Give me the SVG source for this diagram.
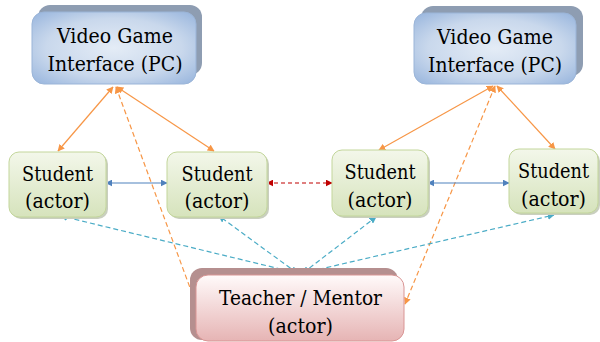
<svg xmlns="http://www.w3.org/2000/svg" width="600" height="342" viewBox="0 0 600 342">
<defs>
<radialGradient id="gBlue" cx="50%" cy="50%" r="75%">
<stop offset="0" stop-color="#E4ECF6"/>
<stop offset="0.55" stop-color="#C9D8EC"/>
<stop offset="1" stop-color="#8EAEDA"/>
</radialGradient>
<linearGradient id="gGreen" x1="0" y1="0" x2="0" y2="1">
<stop offset="0" stop-color="#F3F7EA"/>
<stop offset="1" stop-color="#D6E3BC"/>
</linearGradient>
<linearGradient id="gRed" x1="0" y1="0" x2="0" y2="1">
<stop offset="0" stop-color="#FFFAFA"/>
<stop offset="1" stop-color="#E6B4B4"/>
</linearGradient>
<marker id="aO" viewBox="0 0 10 10" refX="9" refY="5" markerWidth="7" markerHeight="7" markerUnits="userSpaceOnUse" orient="auto-start-reverse"><path d="M0,0 L10,5 L0,10 z" fill="#F79646"/></marker>
<marker id="aB" viewBox="0 0 10 10" refX="9" refY="5" markerWidth="7" markerHeight="7" markerUnits="userSpaceOnUse" orient="auto-start-reverse"><path d="M0,0 L10,5 L0,10 z" fill="#4F81BD"/></marker>
<marker id="aR" viewBox="0 0 10 10" refX="9" refY="5" markerWidth="7" markerHeight="7" markerUnits="userSpaceOnUse" orient="auto-start-reverse"><path d="M0,0 L10,5 L0,10 z" fill="#C00000"/></marker>
<marker id="aC" viewBox="0 0 10 10" refX="9" refY="5" markerWidth="7" markerHeight="7" markerUnits="userSpaceOnUse" orient="auto-start-reverse"><path d="M0,0 L10,5 L0,10 z" fill="#4BACC6"/></marker>
</defs>
<style>
.t{font-family:'DejaVu Serif','Liberation Serif',serif;font-size:20.5px;fill:#000;text-anchor:middle}
.vshadow{fill:#8E9DB2}
.vbox{fill:url(#gBlue);stroke:#9BB5D8;stroke-width:1}
.sshadow{fill:#C9CFBE}
.sbox{fill:url(#gGreen);stroke:#C3D69B;stroke-width:1}
.tshadow{fill:#B58F8F}
.tbox{fill:url(#gRed);stroke:#D99594;stroke-width:1}
.c{fill:none;stroke-width:1.2}
.or{stroke:#F79646}
.bl{stroke:#4F81BD}
.rd{stroke:#C00000;stroke-dasharray:4 3}
.cy{stroke:#4BACC6;stroke-dasharray:5 3}
.od{stroke-dasharray:5 3}
</style>
<g id="connectors">
<line class="c or" x1="113" y1="87" x2="58" y2="151" marker-start="url(#aO)" marker-end="url(#aO)"/>
<line class="c or" x1="117" y1="87" x2="214" y2="151" marker-start="url(#aO)" marker-end="url(#aO)"/>
<line class="c or od" x1="116" y1="87" x2="196" y2="304" marker-start="url(#aO)" marker-end="url(#aO)"/>
<line class="c or" x1="493" y1="86" x2="379" y2="150" marker-start="url(#aO)" marker-end="url(#aO)"/>
<line class="c or" x1="497" y1="86" x2="555" y2="149" marker-start="url(#aO)" marker-end="url(#aO)"/>
<line class="c or od" x1="495" y1="86" x2="405" y2="304" marker-start="url(#aO)" marker-end="url(#aO)"/>
<line class="c bl" x1="106" y1="183" x2="167" y2="183" marker-start="url(#aB)" marker-end="url(#aB)"/>
<line class="c bl" x1="428" y1="183" x2="509" y2="183" marker-start="url(#aB)" marker-end="url(#aB)"/>
<line class="c rd" x1="267" y1="183" x2="332" y2="183" marker-start="url(#aR)" marker-end="url(#aR)"/>
<line class="c cy" x1="297" y1="273" x2="61" y2="216" marker-start="url(#aC)" marker-end="url(#aC)"/>
<line class="c cy" x1="297" y1="273" x2="219" y2="216" marker-start="url(#aC)" marker-end="url(#aC)"/>
<line class="c cy" x1="303" y1="273" x2="376" y2="217" marker-start="url(#aC)" marker-end="url(#aC)"/>
<line class="c cy" x1="303" y1="273" x2="554" y2="215" marker-start="url(#aC)" marker-end="url(#aC)"/>
</g>
<g id="vgi-left">
<rect class="vshadow" x="38" y="5" width="164" height="70" rx="12"/>
<rect class="vbox" x="32" y="12" width="164" height="72" rx="12"/>
<text class="t" x="115" y="43" textLength="116" lengthAdjust="spacingAndGlyphs">Video Game</text>
<text class="t" x="115" y="71" textLength="135" lengthAdjust="spacingAndGlyphs">Interface (PC)</text>
</g>
<g id="vgi-right">
<rect class="vshadow" x="421" y="6" width="162" height="70" rx="12"/>
<rect class="vbox" x="414" y="13" width="162" height="71" rx="12"/>
<text class="t" x="495" y="44" textLength="116" lengthAdjust="spacingAndGlyphs">Video Game</text>
<text class="t" x="495" y="72" textLength="134" lengthAdjust="spacingAndGlyphs">Interface (PC)</text>
</g>
<g id="student-1">
<rect class="sshadow" x="11" y="154" width="97" height="65" rx="10"/>
<rect class="sbox" x="9" y="152" width="97" height="65" rx="10"/>
<text class="t" x="57.5" y="181" textLength="71" lengthAdjust="spacingAndGlyphs">Student</text>
<text class="t" x="57.5" y="208" textLength="65" lengthAdjust="spacingAndGlyphs">(actor)</text>
</g>
<g id="student-2">
<rect class="sshadow" x="169" y="154" width="100" height="65" rx="10"/>
<rect class="sbox" x="167" y="152" width="100" height="65" rx="10"/>
<text class="t" x="217" y="181" textLength="71" lengthAdjust="spacingAndGlyphs">Student</text>
<text class="t" x="217" y="208" textLength="65" lengthAdjust="spacingAndGlyphs">(actor)</text>
</g>
<g id="student-3">
<rect class="sshadow" x="334" y="152" width="96" height="66" rx="10"/>
<rect class="sbox" x="332" y="150" width="96" height="66" rx="10"/>
<text class="t" x="380" y="179" textLength="71" lengthAdjust="spacingAndGlyphs">Student</text>
<text class="t" x="380" y="207" textLength="65" lengthAdjust="spacingAndGlyphs">(actor)</text>
</g>
<g id="student-4">
<rect class="sshadow" x="511" y="151" width="89" height="64" rx="10"/>
<rect class="sbox" x="509" y="149" width="89" height="64" rx="10"/>
<text class="t" x="553.5" y="178" textLength="71" lengthAdjust="spacingAndGlyphs">Student</text>
<text class="t" x="553.5" y="206" textLength="65" lengthAdjust="spacingAndGlyphs">(actor)</text>
</g>
<g id="teacher">
<rect class="tshadow" x="190" y="268" width="208" height="72" rx="12"/>
<rect class="tbox" x="196" y="275" width="208" height="66" rx="12"/>
<text class="t" x="300.5" y="305" textLength="163" lengthAdjust="spacingAndGlyphs">Teacher / Mentor</text>
<text class="t" x="300.5" y="333" textLength="65" lengthAdjust="spacingAndGlyphs">(actor)</text>
</g>
</svg>
